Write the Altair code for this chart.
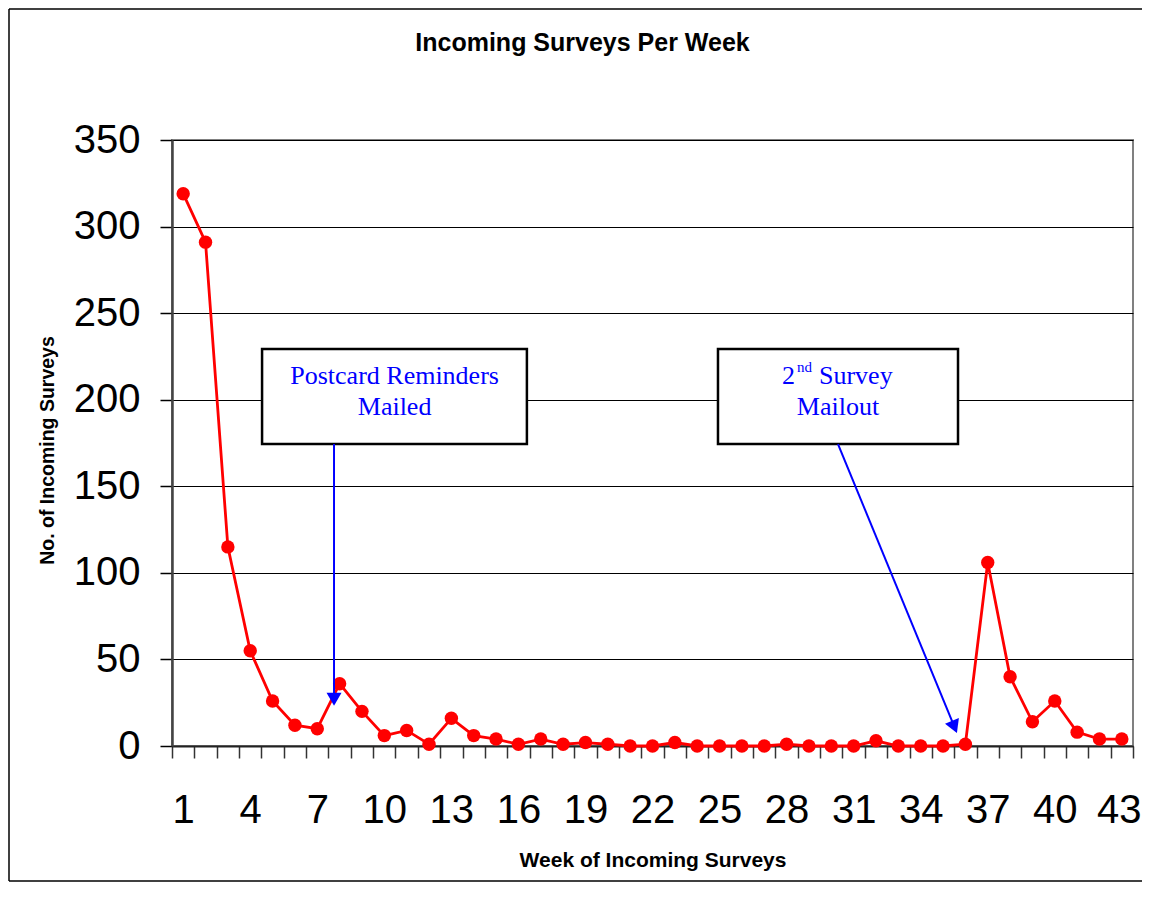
import json
import altair as alt
import pandas as pd

# ---- data ----
weeks = list(range(1, 44))
counts = [319, 291, 115, 55, 26, 12, 10, 36, 20, 6,
          9, 1, 16, 6, 4, 1, 4, 1, 2, 1,
          0, 0, 2, 0, 0, 0, 0, 1, 0, 0,
          0, 3, 0, 0, 0, 1, 106, 40, 14, 26,
          8, 4, 4]
label_weeks = list(range(1, 44, 3))
y_ticks = list(range(0, 351, 50))
tick_bounds = [w - 0.5 for w in weeks] + [43.5]

# annotation boxes (in data units: week, count)
box_x1 = [4.53, 24.93]
box_x2 = [16.38, 35.67]
box_top = [229.3, 229.3]
box_bottom = [174.4, 174.4]

# arrows
arrow_x1 = [7.75, 30.30]
arrow_y1 = [174.4, 174.4]
arrow_x2 = [7.75, 35.51]
arrow_y2 = [27.0, 11.0]
arrow_angle = [0, 337.6]

# annotation text
center_text = ["Postcard Reminders", "Mailed", "Mailout"]
center_x = [10.46, 10.46, 30.30]
center_y = [208.8, 191.2, 191.2]
sup_x = [30.30]
sup_y = [208.8]

df = pd.DataFrame({"week": weeks, "count": counts})
boxes = pd.DataFrame({"x1": box_x1, "x2": box_x2, "t": box_top, "b": box_bottom})
arrows = pd.DataFrame({"x1": arrow_x1, "y1": arrow_y1, "x2": arrow_x2, "y2": arrow_y2,
                       "ang": arrow_angle})
ctext = pd.DataFrame({"x": center_x, "y": center_y, "t": center_text})
stext = pd.DataFrame({"x": sup_x, "y": sup_y})

W, H = 961, 606
SANS = "Liberation Sans"
SERIF = "Liberation Serif"
BLUE = "#0000FF"
RED = "#FF0000"

xscale = alt.Scale(domain=[0.5, 43.5], nice=False, zero=False)
yscale = alt.Scale(domain=[0, 350], nice=False)

label_expr = ("indexof(%s, datum.value + 0.5) >= 0 ? format(datum.value + 0.5, 'd') : ''"
              % json.dumps(label_weeks))
half_band = W / 43 / 2
last_label_test = "datum.value == %s" % (label_weeks[-1] - 0.5)

x_axis = alt.Axis(values=tick_bounds, labelExpr=label_expr,
                  labelOffset={"condition": {"test": last_label_test, "value": half_band - 3},
                               "value": half_band},
                  tickSize=12, tickColor="#333333", tickWidth=1.5, grid=False,
                  labelFontSize=40, labelFont=SANS, labelColor="black", labelPadding=32,
                  labelFlush=False, labelOverlap=False,
                  domainColor="#222222", domainWidth=2,
                  title="Week of Incoming Surveys", titleFont=SANS, titleFontSize=21,
                  titleFontWeight="bold", titleColor="black",
                  titleX=W / 2, titleY=120, titleBaseline="alphabetic", titleAlign="center")

y_axis = alt.Axis(values=y_ticks, grid=True, gridColor="black", gridWidth=1,
                  tickSize=12, tickColor="black", tickWidth=1.5,
                  labelFontSize=40, labelFont=SANS, labelColor="black", labelPadding=20,
                  domainColor="#444444", domainWidth=2.5,
                  title="No. of Incoming Surveys", titleFont=SANS, titleFontSize=19.5,
                  titleFontWeight="bold", titleColor="black",
                  titleX=-119, titleY=310, titleBaseline="alphabetic", titleAlign="center")


def X(field):
    return alt.X(field, type="quantitative", scale=xscale, axis=x_axis)


def Y(field):
    return alt.Y(field, type="quantitative", scale=yscale, axis=y_axis)


one = pd.DataFrame({"a": [0]})
FL, FT, FB, FR = -163, -131, H + 135, W + 9
frame_top = alt.Chart(one).mark_rule(color="black", strokeWidth=1.5).encode(
    x=alt.value(FL), x2=alt.value(FR), y=alt.value(FT))
frame_bottom = alt.Chart(one).mark_rule(color="black", strokeWidth=1.5).encode(
    x=alt.value(FL), x2=alt.value(FR), y=alt.value(FB))
frame_left = alt.Chart(one).mark_rule(color="black", strokeWidth=1.5).encode(
    x=alt.value(FL), y=alt.value(FT), y2=alt.value(FB))

line = alt.Chart(df).mark_line(color=RED, strokeWidth=2.8).encode(x=X("week"), y=Y("count"))
pts = alt.Chart(df).mark_circle(color=RED, size=180, opacity=1).encode(x=X("week"), y=Y("count"))

box_layer = alt.Chart(boxes).mark_rect(fill="white", stroke="black", strokeWidth=2.5).encode(
    x=X("x1"), x2="x2:Q", y=Y("t"), y2="b:Q",
)

arrow_lines = alt.Chart(arrows).mark_rule(color=BLUE, strokeWidth=2).encode(
    x=X("x1"), x2="x2:Q", y=Y("y1"), y2="y2:Q",
)
arrow_heads = alt.Chart(arrows).mark_point(shape="triangle-down", filled=True, size=225,
                                           color=BLUE, opacity=1).encode(
    x=X("x2"), y=Y("y2"), angle=alt.Angle("ang:Q", scale=None),
)

txt_center = alt.Chart(ctext).mark_text(font=SERIF, fontSize=26, color=BLUE, align="center",
                                        baseline="alphabetic").encode(
    x=X("x"), y=Y("y"), text="t:N",
)
txt_two = alt.Chart(stext).mark_text(font=SERIF, fontSize=26, color=BLUE, align="right",
                                     baseline="alphabetic", dx=-43, text="2").encode(
    x=X("x"), y=Y("y"))
txt_nd = alt.Chart(stext).mark_text(font=SERIF, fontSize=15, color=BLUE, align="left",
                                    baseline="alphabetic", dx=-41, dy=-12, text="nd").encode(
    x=X("x"), y=Y("y"))
txt_survey = alt.Chart(stext).mark_text(font=SERIF, fontSize=26, color=BLUE, align="left",
                                        baseline="alphabetic", dx=-19, text="Survey").encode(
    x=X("x"), y=Y("y"))

chart = alt.layer(
    frame_top, frame_bottom, frame_left, line, pts, box_layer, arrow_lines, arrow_heads,
    txt_center, txt_two, txt_nd, txt_survey,
).properties(
    width=W, height=H,
    title=alt.TitleParams("Incoming Surveys Per Week", font=SANS, fontSize=25,
                          fontWeight="bold", color="black", anchor="middle",
                          frame="group", dx=-70, offset=0, dy=68, baseline="alphabetic"),
    autosize=alt.AutoSizeParams(type="none"),
    padding={"left": 164, "top": 132, "right": 9, "bottom": 137},
).configure(background="white",
            view=alt.ViewConfig(stroke="#808080", strokeWidth=2))

chart.save("out.html", embed_options={"renderer": "svg", "actions": False})
